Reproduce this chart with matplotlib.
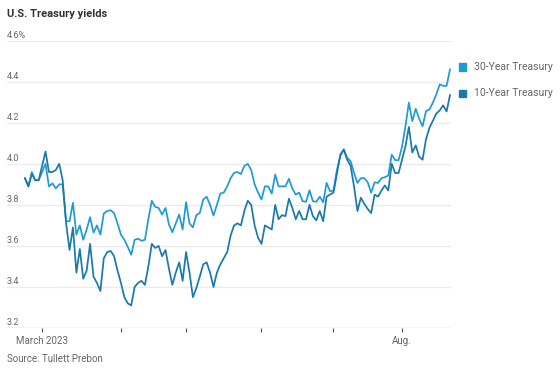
import matplotlib
matplotlib.use("Agg")
import matplotlib.pyplot as plt
import matplotlib.transforms as mtransforms
import numpy as np
import pandas as pd

plt.rcParams['font.family'] = ['Roboto', 'DejaVu Sans']

# trading days, Feb 22 - Aug 21 2023 (evenly spaced on the chart)
holidays = ['2023-04-07', '2023-05-29', '2023-06-19', '2023-07-04']
dates = pd.bdate_range('2023-02-22', '2023-08-21')
dates = dates[~dates.isin(pd.to_datetime(holidays))]

ten_year = [
    # Feb
    3.93, 3.89, 3.95, 3.92, 3.92,
    # Mar
    3.99, 4.06, 3.96, 3.96, 3.97, 4.00, 3.92, 3.71, 3.58, 3.69, 3.47, 3.585,
    3.44, 3.48, 3.61, 3.45, 3.42, 3.38, 3.54, 3.57, 3.575, 3.55, 3.48,
    # Apr
    3.42, 3.35, 3.32, 3.31, 3.40, 3.42, 3.43, 3.41, 3.50, 3.61, 3.59, 3.60,
    3.55, 3.58, 3.49, 3.41, 3.47, 3.52, 3.43,
    # May
    3.57, 3.47, 3.35, 3.395, 3.45, 3.51, 3.52, 3.47, 3.40, 3.47, 3.51, 3.54,
    3.57, 3.65, 3.70, 3.71, 3.70, 3.77, 3.82, 3.80, 3.70, 3.64,
    # Jun
    3.61, 3.70, 3.69, 3.68, 3.80, 3.73, 3.75, 3.745, 3.83, 3.785, 3.73, 3.77,
    3.73, 3.73, 3.80, 3.745, 3.725, 3.77, 3.72, 3.84, 3.85,
    # Jul
    3.86, 3.95, 4.045, 4.07, 4.02, 3.99, 3.89, 3.77, 3.835, 3.805, 3.78, 3.76,
    3.85, 3.84, 3.87, 3.895, 3.87, 4.00, 3.955, 3.955,
    # Aug
    4.02, 4.085, 4.18, 4.055, 4.09, 4.035, 4.02, 4.12, 4.175, 4.21, 4.245,
    4.26, 4.285, 4.255, 4.335,
]

thirty_year = [
    # Feb
    3.93, 3.89, 3.96, 3.92, 3.92,
    # Mar
    3.96, 4.00, 3.89, 3.905, 3.88, 3.90, 3.90, 3.72, 3.72, 3.81, 3.655, 3.70,
    3.63, 3.68, 3.74, 3.665, 3.70, 3.655, 3.758, 3.77, 3.774, 3.76, 3.71,
    # Apr
    3.655, 3.63, 3.595, 3.557, 3.63, 3.635, 3.625, 3.63, 3.73, 3.82, 3.79,
    3.785, 3.753, 3.785, 3.705, 3.666, 3.71, 3.753, 3.68,
    # May
    3.813, 3.71, 3.69, 3.75, 3.76, 3.826, 3.84, 3.80, 3.748, 3.80, 3.855, 3.86,
    3.89, 3.93, 3.956, 3.96, 3.95, 3.99, 4.00, 3.97, 3.90, 3.86,
    # Jun
    3.826, 3.89, 3.89, 3.855, 3.948, 3.89, 3.89, 3.89, 3.927, 3.88, 3.85, 3.86,
    3.818, 3.815, 3.871, 3.818, 3.815, 3.84, 3.813, 3.907, 3.866,
    # Jul
    3.87, 3.97, 4.037, 4.07, 4.03, 4.013, 3.956, 3.907, 3.93, 3.93, 3.91,
    3.859, 3.91, 3.907, 3.93, 3.935, 3.943, 4.045, 4.018, 4.018,
    # Aug
    4.083, 4.183, 4.298, 4.208, 4.268, 4.22, 4.183, 4.257, 4.265, 4.298,
    4.338, 4.387, 4.38, 4.38, 4.46,
]

y_ticks = [3.2, 3.4, 3.6, 3.8, 4.0, 4.2, 4.4, 4.6]
y_labels = ['3.2', '3.4', '3.6', '3.8', '4.0', '4.2', '4.4', '4.6%']
month_labels = ['March 2023', '', '', '', '', 'Aug.']

c30 = '#1f9ad6'
c10 = '#1a78ab'
grey = '#666666'

x = np.arange(len(dates))
# first trading day of each month from March on
first_of_month = [i for i in range(1, len(dates))
                  if dates[i].month != dates[i - 1].month]

fig = plt.figure(figsize=(5.6, 3.75), dpi=100)
ax = fig.add_axes([7 / 560, 1 - 328 / 375, 444 / 560, (328 - 40.7) / 375])

ax.plot(x, thirty_year, color=c30, lw=1.25, solid_joinstyle='round')
ax.plot(x, ten_year, color=c10, lw=1.25, solid_joinstyle='round')

# data starts a bit right of the gridline start
n = len(dates) - 1
ax.set_xlim(-n * 18 / 426, n * 427 / 426)
ax.set_ylim(3.2, 4.6)

for s in ax.spines.values():
    s.set_visible(False)

for v in y_ticks:
    ax.axhline(v, color='#ebebeb', lw=1.0, zorder=0)
ax.axhline(3.2, color='#dddddd', lw=1.0, zorder=0)

# y labels sit just above the gridlines at the left edge
trans = mtransforms.blended_transform_factory(ax.transAxes, ax.transData)
for v, lab in zip(y_ticks, y_labels):
    ax.text(0, v + 0.004, lab, transform=trans, ha='left', va='bottom',
            fontsize=6.5, color=grey)
ax.set_yticks([])

ax.set_xticks(first_of_month)
ax.set_xticklabels(month_labels, fontsize=7, color=grey)
ax.tick_params(axis='x', length=3, width=0.8, color='#555555', pad=3)

fig.text(7 / 560, 1 - 14 / 375, 'U.S. Treasury yields', fontsize=8,
         fontweight='bold', color='#333333', ha='left', va='center')
fig.text(7 / 560, 1 - 359 / 375, 'Source: Tullett Prebon', fontsize=7,
         color=grey, ha='left', va='center')

# legend
for yy, lab, col in [(67, '30-Year Treasury', c30), (93, '10-Year Treasury', c10)]:
    fig.patches.append(plt.Rectangle((459 / 560, 1 - (yy + 3.5) / 375),
                                     7 / 560, 7 / 375, color=col,
                                     transform=fig.transFigure))
    fig.text(474 / 560, 1 - yy / 375, lab, fontsize=7.5, color=grey,
             ha='left', va='center')

fig.savefig('out.png', dpi=100)
